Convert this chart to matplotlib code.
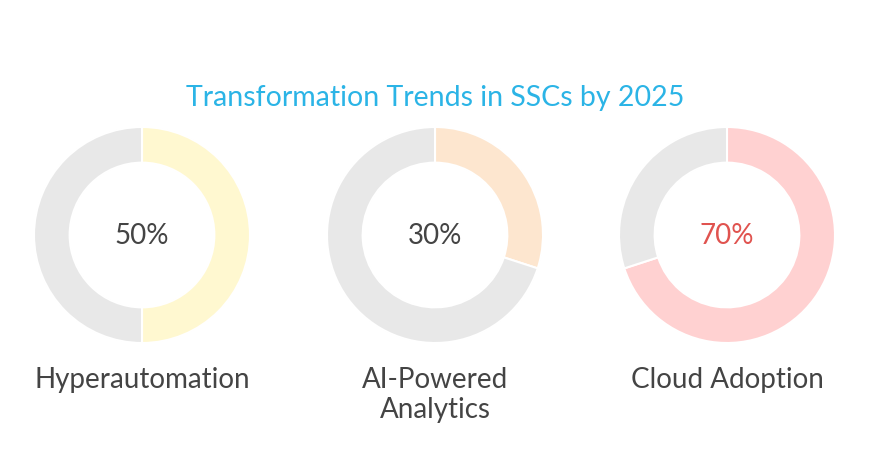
"""
Donut charts: Transformation Trends in SSCs by 2025
"""

import matplotlib.pyplot as plt

categories = ["Hyperautomation", "AI-Powered\nAnalytics", "Cloud Adoption"]
values = [50, 30, 70]
value_labels = ["50%", "30%", "70%"]
colors = ["#fff8d0", "#fde6cf", "#ffd1d1"]
label_colors = ["#444444", "#444444", "#e0534f"]
rest_color = "#e8e8e8"

plt.rcParams['font.family'] = ['Lato', 'DejaVu Sans']

W, H = 875, 456
fig = plt.figure(figsize=(W / 100, H / 100), dpi=100)
fig.patch.set_facecolor("white")

centers_x = [142, 435, 727]
cy, r = 236, 108

fig.text(435 / W, 1 - 98 / H, "Transformation Trends in SSCs by 2025",
         ha="center", va="center", fontsize=20.5, color="#2bb4e6")

for cx, cat, val, lab, col, lcol in zip(centers_x, categories, values,
                                        value_labels, colors, label_colors):
    ax = fig.add_axes([(cx - r) / W, (H - cy - r) / H, 2 * r / W, 2 * r / H])
    ax.pie([val, 100 - val], colors=[col, rest_color], startangle=90,
           counterclock=False, radius=1.0,
           wedgeprops=dict(width=0.33, edgecolor="white", linewidth=1.5))
    ax.set_xlim(-1, 1)
    ax.set_ylim(-1, 1)
    ax.set_aspect("equal")
    ax.axis("off")
    ax.text(0, 0, lab, ha="center", va="center", fontsize=20, color=lcol)
    # category label below each donut, one text per line
    for i, line in enumerate(cat.split("\n")):
        fig.text(cx / W, 1 - (380 + 30 * i) / H, line, ha="center",
                 va="center", fontsize=20, color="#444444")

fig.savefig("out.png", dpi=100, facecolor="white")
plt.close(fig)
